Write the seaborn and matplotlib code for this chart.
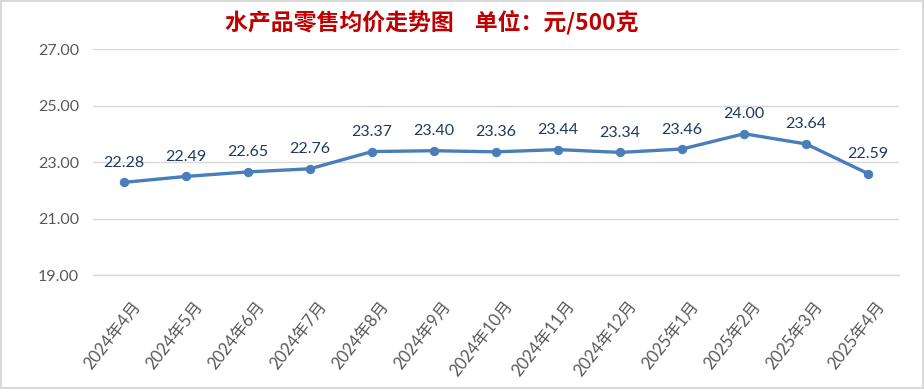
import matplotlib
matplotlib.use("Agg")
import matplotlib.pyplot as plt
from matplotlib.transforms import ScaledTranslation
import seaborn as sns
import pandas as pd

# data
months = ["2024年4月", "2024年5月", "2024年6月", "2024年7月", "2024年8月", "2024年9月",
          "2024年10月", "2024年11月", "2024年12月", "2025年1月", "2025年2月", "2025年3月",
          "2025年4月"]
prices = [22.28, 22.49, 22.65, 22.76, 23.37, 23.40, 23.36, 23.44, 23.34, 23.46, 24.00, 23.64, 22.59]
y_ticks = [19, 21, 23, 25, 27]

title = "水产品零售均价走势图    单位：元/500克"

sns.set_theme(style="white")
plt.rcParams['font.family'] = ['Lato', 'Noto Sans CJK SC', 'DejaVu Sans']

df = pd.DataFrame({"month": months, "price": prices})

fig = plt.figure(figsize=(9.24, 3.89), dpi=100)
fig.patch.set_edgecolor("#D9D9D9")
fig.patch.set_linewidth(1.5)
ax = fig.add_axes([0.1006, 0.293, 0.8724, 0.581])

line_color = "#4A7EBB"
sns.lineplot(data=df, x="month", y="price", sort=False, ax=ax, color=line_color,
             linewidth=2.4, marker="o", markersize=6, markeredgecolor=line_color)

# data labels
for i, v in enumerate(prices):
    ax.annotate(f"{v:.2f}", (i, v), xytext=(0, 9), textcoords="offset points",
                ha="center", va="bottom", fontsize=11.5, color="#1F3864")

ax.set_xlim(-0.5, len(months) - 0.5)
ax.set_ylim(19, 27)
ax.set_yticks(y_ticks)
ax.set_yticklabels([f"{t:.2f}" for t in y_ticks])
ax.yaxis.grid(True, color="#D9D9D9", linewidth=1)
ax.set_axisbelow(True)

for side in ["top", "right", "left"]:
    ax.spines[side].set_visible(False)
ax.spines["bottom"].set_color("#D9D9D9")
ax.spines["bottom"].set_linewidth(1)

# tick marks at category boundaries, labels at centers
ax.set_xticks([i - 0.5 for i in range(len(months) + 1)], minor=True)
ax.tick_params(axis="x", which="minor", direction="in", length=6, color="#D9D9D9", width=1)
ax.tick_params(axis="x", which="major", length=0, pad=20, labelsize=12, labelcolor="#595959")
ax.tick_params(axis="y", length=0, pad=10, labelsize=11.5, labelcolor="#595959")

ax.set_xticks(range(len(months)))
ax.set_xticklabels(months, rotation=52, ha="right", rotation_mode="anchor", va="center")
offset = ScaledTranslation(10 / 72, 0, fig.dpi_scale_trans)
for lab in ax.get_xticklabels():
    lab.set_transform(lab.get_transform() + offset)

ax.set_xlabel("")
ax.set_ylabel("")

fig.text(0.467, 0.943, title, ha="center", va="center", fontsize=16.5,
         color="#C00000", fontweight="bold", family=["Noto Sans CJK SC", "DejaVu Sans"])

fig.savefig("out.png", dpi=100)
